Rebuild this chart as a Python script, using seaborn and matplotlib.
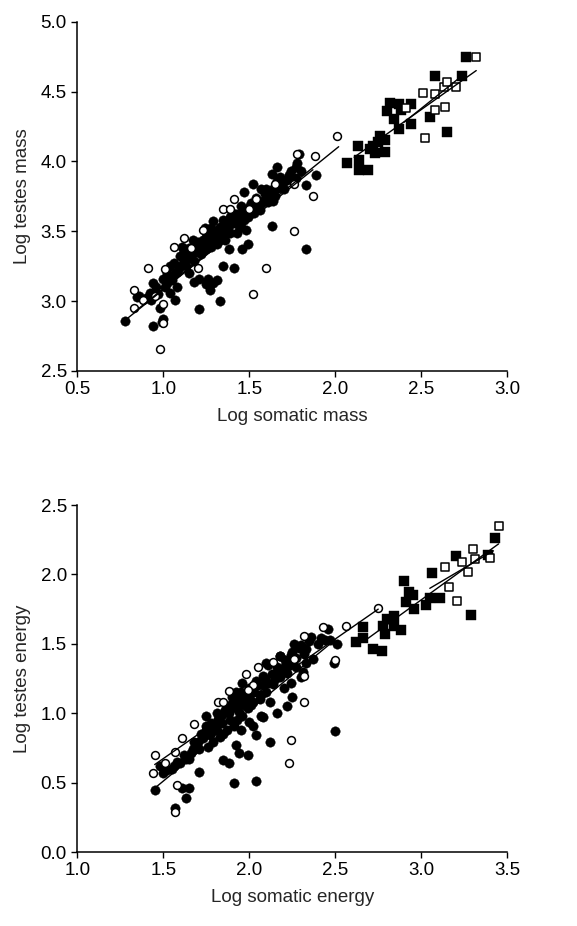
import numpy as np
import pandas as pd
import matplotlib
matplotlib.use('Agg')
import matplotlib.pyplot as plt
import seaborn as sns

# ---- top panel: log somatic mass vs log testes mass ----
mass_fc_x = [0.78, 0.85, 0.92, 0.93, 0.94, 0.98, 0.94, 0.99, 1.00, 1.04, 1.07, 1.01, 1.03, 1.04, 1.06,
             1.08, 1.10, 1.11, 1.13, 1.14, 1.15, 1.17, 1.18, 1.18, 1.21, 1.21, 1.23, 1.24, 1.25, 1.26,
             1.27, 1.28, 1.29, 1.31, 1.32, 1.33, 1.34, 1.35, 1.33, 1.35, 1.37, 1.38, 1.40, 1.41, 1.42,
             1.43, 1.44, 1.45, 1.46, 1.47, 1.48, 1.49, 1.50, 1.51, 1.52, 1.53, 1.56, 1.57, 1.58, 1.60,
             1.62, 1.63, 1.63, 1.64, 1.66, 1.67, 1.69, 1.70, 1.73, 1.77, 1.79, 1.83, 1.89, 1.83, 0.90,
             0.86, 1.02, 1.08, 1.12, 1.15, 1.19, 1.22, 1.26, 1.29, 1.31, 1.36, 1.39, 1.41, 1.45, 1.49,
             1.52, 1.55, 1.59, 1.66, 1.68, 1.72, 1.27, 1.29, 1.25,
             1.05, 1.07, 1.09, 1.11, 1.12, 1.14, 1.16, 1.17, 1.19, 1.20, 1.22, 1.24, 1.25, 1.27, 1.28,
             1.30, 1.32, 1.33, 1.35, 1.36, 1.38, 1.39, 1.42, 1.43, 1.46, 1.47, 1.50, 1.53, 1.54, 1.57,
             1.60, 1.61, 1.64, 1.65, 1.68, 1.70, 1.74, 1.77, 1.80, 1.78, 0.96, 0.97, 1.02, 1.00]
mass_fc_y = [2.86, 3.03, 3.06, 3.01, 3.13, 2.95, 2.82, 2.85, 2.87, 3.06, 3.01, 3.10, 3.18, 3.25, 3.27,
             3.21, 3.32, 3.39, 3.25, 3.34, 3.20, 3.44, 3.14, 3.29, 2.94, 3.16, 3.44, 3.52, 3.37, 3.16,
             3.49, 3.39, 3.57, 3.15, 3.51, 3.44, 3.46, 3.25, 3.00, 3.58, 3.51, 3.37, 3.63, 3.24, 3.56,
             3.49, 3.59, 3.68, 3.37, 3.78, 3.51, 3.41, 3.63, 3.70, 3.84, 3.63, 3.65, 3.80, 3.72, 3.74,
             3.77, 3.91, 3.54, 3.72, 3.96, 3.81, 3.84, 3.80, 3.90, 3.96, 4.05, 3.83, 3.90, 3.37, 3.02,
             3.04, 3.13, 3.10, 3.29, 3.38, 3.39, 3.34, 3.44, 3.49, 3.41, 3.44, 3.49, 3.58, 3.53, 3.60,
             3.68, 3.71, 3.77, 3.86, 3.89, 3.87, 3.08, 3.13, 3.12,
             3.15, 3.20, 3.24, 3.26, 3.36, 3.30, 3.32, 3.38, 3.35, 3.42, 3.40, 3.38, 3.46, 3.43, 3.52,
             3.47, 3.45, 3.53, 3.50, 3.55, 3.54, 3.60, 3.62, 3.55, 3.64, 3.58, 3.67, 3.66, 3.74, 3.70,
             3.80, 3.71, 3.80, 3.75, 3.82, 3.86, 3.93, 3.88, 3.93, 3.99, 3.10, 3.05, 3.20, 3.16]
mass_oc_x = [2.01, 1.88, 1.78, 1.87, 1.76, 1.76, 1.60, 1.52, 0.98, 1.00, 0.91, 0.83, 0.83, 0.95,
             1.06, 1.12, 1.20, 1.35, 1.41, 1.39, 1.65, 1.54, 1.00, 0.88, 1.01, 1.16, 1.23, 1.50]
mass_oc_y = [4.18, 4.04, 4.05, 3.75, 3.84, 3.50, 3.24, 3.05, 2.66, 2.84, 3.24, 3.08, 2.95, 3.04,
             3.39, 3.45, 3.24, 3.66, 3.73, 3.66, 3.84, 3.73, 2.98, 3.01, 3.23, 3.38, 3.51, 3.66]
mass_fs_x = [2.76, 2.58, 2.74, 2.55, 2.65, 2.44, 2.32, 2.37, 2.38, 2.44, 2.30, 2.34, 2.37,
             2.29, 2.26, 2.25, 2.20, 2.23, 2.29, 2.13, 2.07, 2.14, 2.14, 2.19, 2.22]
mass_fs_y = [4.75, 4.61, 4.61, 4.32, 4.21, 4.27, 4.42, 4.41, 4.37, 4.41, 4.36, 4.30, 4.23,
             4.15, 4.18, 4.14, 4.09, 4.06, 4.07, 4.11, 3.99, 4.01, 3.94, 3.94, 4.11]
mass_os_x = [2.82, 2.70, 2.63, 2.65, 2.58, 2.51, 2.64, 2.58, 2.52, 2.41]
mass_os_y = [4.75, 4.53, 4.53, 4.57, 4.48, 4.49, 4.39, 4.37, 4.17, 4.38]

# fitted lines: x range and y at both ends
mass_fit_x = {'fc': [0.78, 1.87], 'oc': [0.83, 2.02], 'fs': [2.11, 2.82], 'os': [2.40, 2.76]}
mass_fit_y = {'fc': [2.865, 3.94], 'oc': [2.92, 4.105], 'fs': [4.03, 4.65], 'os': [4.28, 4.635]}

# ---- bottom panel: log somatic energy vs log testes energy ----
en_fc_x = [1.45, 1.61, 1.63, 1.65, 1.57, 1.71, 1.91, 2.04, 1.99, 1.94, 1.92, 1.88, 1.85, 2.04, 2.12,
           2.50, 2.25, 2.16, 2.08, 2.12, 2.20, 2.30, 2.31, 2.33, 2.37, 2.36, 2.42, 2.46, 2.51, 2.49,
           2.47, 2.18, 2.26, 2.29, 2.33, 2.24, 2.21, 2.17, 2.11, 2.08, 2.04, 2.00, 1.95, 1.92, 1.91,
           1.94, 1.89, 1.84, 1.81, 1.79, 1.75, 1.72, 1.68, 1.66, 1.63, 1.60, 1.56, 1.52, 1.48, 1.65,
           1.71, 1.76, 1.79, 1.83, 1.87, 1.91, 1.96, 1.99, 2.02, 2.06, 2.10, 2.14, 2.18, 2.22, 1.75,
           1.81, 1.87, 1.91, 1.95, 2.00, 2.02, 2.07, 2.22, 2.24, 2.27, 2.18, 2.10, 1.98, 1.96,
           1.50, 1.55, 1.58, 1.62, 1.67, 1.70, 1.73, 1.75, 1.77, 1.78, 1.80, 1.82, 1.84, 1.86, 1.88,
           1.89, 1.90, 1.92, 1.93, 1.95, 1.97, 1.98, 2.00, 2.01, 2.03, 2.05, 2.06, 2.08, 2.09, 2.11,
           2.13, 2.15, 2.16, 2.19, 2.21, 2.23, 2.25, 2.27, 2.30, 2.32, 2.35, 2.40, 2.44, 1.85, 1.93]
en_fc_y = [0.45, 0.46, 0.39, 0.46, 0.32, 0.58, 0.50, 0.51, 0.70, 0.71, 0.77, 0.64, 0.66, 0.84, 0.79,
           0.87, 1.12, 1.00, 0.97, 1.08, 1.18, 1.26, 1.30, 1.36, 1.39, 1.55, 1.54, 1.61, 1.50, 1.36,
           1.53, 1.41, 1.50, 1.47, 1.46, 1.42, 1.34, 1.32, 1.35, 1.27, 1.23, 1.18, 1.15, 1.15, 1.05,
           1.01, 0.95, 0.93, 1.00, 0.87, 0.91, 0.85, 0.79, 0.71, 0.67, 0.64, 0.62, 0.59, 0.62, 0.67,
           0.74, 0.76, 0.79, 0.83, 0.88, 0.91, 0.98, 1.04, 1.08, 1.10, 1.15, 1.21, 1.26, 1.29, 0.98,
           0.88, 1.03, 1.10, 0.88, 0.94, 0.91, 0.98, 1.05, 1.22, 1.33, 1.41, 1.36, 1.05, 1.22,
           0.57, 0.60, 0.65, 0.70, 0.74, 0.79, 0.82, 0.88, 0.84, 0.93, 0.90, 0.96, 0.99, 1.02, 1.00,
           1.06, 1.12, 1.04, 1.10, 1.07, 1.13, 1.09, 1.12, 1.06, 1.15, 1.20, 1.13, 1.20, 1.25, 1.22,
           1.28, 1.25, 1.33, 1.30, 1.38, 1.35, 1.44, 1.40, 1.49, 1.43, 1.52, 1.50, 1.53, 0.85, 0.95]
en_oc_x = [2.75, 2.56, 2.43, 2.32, 2.50, 2.32, 2.24, 2.23, 1.98, 2.05, 2.02, 1.88, 1.82,
           1.85, 1.68, 1.61, 1.57, 1.45, 1.44, 1.51, 1.58, 1.57, 2.26, 2.32, 2.14, 1.99]
en_oc_y = [1.76, 1.63, 1.62, 1.56, 1.38, 1.08, 0.81, 0.64, 1.28, 1.33, 1.20, 1.16, 1.08,
           1.08, 0.92, 0.82, 0.72, 0.70, 0.57, 0.64, 0.48, 0.29, 1.39, 1.27, 1.37, 1.17]
en_fs_x = [3.43, 3.39, 3.20, 3.06, 3.11, 3.05, 3.03, 3.29, 2.90, 2.93, 2.95, 2.91, 2.96,
           2.88, 2.84, 2.80, 2.78, 2.79, 2.77, 2.72, 2.66, 2.66, 2.62, 2.84]
en_fs_y = [2.26, 2.14, 2.13, 2.01, 1.83, 1.83, 1.78, 1.71, 1.95, 1.87, 1.85, 1.80, 1.75,
           1.60, 1.70, 1.68, 1.63, 1.57, 1.45, 1.46, 1.54, 1.62, 1.51, 1.63]
en_os_x = [3.45, 3.40, 3.30, 3.24, 3.31, 3.27, 3.14, 3.16, 3.21]
en_os_y = [2.35, 2.12, 2.18, 2.09, 2.11, 2.02, 2.05, 1.91, 1.81]

en_fit_x = {'fc': [1.45, 2.50], 'oc': [1.45, 2.75], 'fs': [2.68, 3.45], 'os': [3.05, 3.42]}
en_fit_y = {'fc': [0.46, 1.53], 'oc': [0.63, 1.75], 'fs': [1.53, 2.22], 'os': [1.90, 2.17]}

sns.set_style('ticks')
plt.rcParams['font.family'] = ['Liberation Sans', 'DejaVu Sans']

fig = plt.figure(figsize=(5.77, 9.26), dpi=100)
ax1 = fig.add_axes([0.134, 0.5994, 0.745, 0.3772])
ax2 = fig.add_axes([0.134, 0.0799, 0.745, 0.3747])


def draw_panel(ax, fc, oc, fs, os_, fit_x, fit_y):
    sns.scatterplot(x=fc[0], y=fc[1], ax=ax, marker='o', s=46, color='black',
                    edgecolor='black', linewidth=0.3, zorder=2)
    sns.scatterplot(x=oc[0], y=oc[1], ax=ax, marker='o', s=32, color='white',
                    edgecolor='black', linewidth=1.1, zorder=3)
    sns.scatterplot(x=fs[0], y=fs[1], ax=ax, marker='s', s=52, color='black',
                    edgecolor='black', linewidth=0.3, zorder=2)
    sns.scatterplot(x=os_[0], y=os_[1], ax=ax, marker='s', s=38, color='white',
                    edgecolor='black', linewidth=1.1, zorder=3)
    for k in ['fc', 'oc', 'fs', 'os']:
        sns.lineplot(x=fit_x[k], y=fit_y[k], ax=ax, color='black', linewidth=1.0,
                     zorder=4, estimator=None)
    sns.despine(ax=ax)
    for sp in ['left', 'bottom']:
        ax.spines[sp].set_linewidth(1.1)
        ax.spines[sp].set_color('black')
    ax.tick_params(direction='out', length=4, width=1, colors='black', labelsize=13.5)


draw_panel(ax1, (mass_fc_x, mass_fc_y), (mass_oc_x, mass_oc_y),
           (mass_fs_x, mass_fs_y), (mass_os_x, mass_os_y), mass_fit_x, mass_fit_y)
ax1.set_xlim(0.5, 3.0)
ax1.set_ylim(2.5, 5.0)
ax1.set_xticks(np.arange(0.5, 3.01, 0.5))
ax1.set_yticks(np.arange(2.5, 5.01, 0.5))
ax1.set_xticklabels([f'{v:.1f}' for v in np.arange(0.5, 3.01, 0.5)])
ax1.set_yticklabels([f'{v:.1f}' for v in np.arange(2.5, 5.01, 0.5)])
ax1.set_xlabel('Log somatic mass', fontsize=13.5, labelpad=7)
ax1.set_ylabel('Log testes mass', fontsize=13.5, labelpad=7)

draw_panel(ax2, (en_fc_x, en_fc_y), (en_oc_x, en_oc_y),
           (en_fs_x, en_fs_y), (en_os_x, en_os_y), en_fit_x, en_fit_y)
ax2.set_xlim(1.0, 3.5)
ax2.set_ylim(0.0, 2.5)
ax2.set_xticks(np.arange(1.0, 3.51, 0.5))
ax2.set_yticks(np.arange(0.0, 2.51, 0.5))
ax2.set_xticklabels([f'{v:.1f}' for v in np.arange(1.0, 3.51, 0.5)])
ax2.set_yticklabels([f'{v:.1f}' for v in np.arange(0.0, 2.51, 0.5)])
ax2.set_xlabel('Log somatic energy', fontsize=13.5, labelpad=7)
ax2.set_ylabel('Log testes energy', fontsize=13.5, labelpad=7)

plt.savefig('out.png', dpi=100)
